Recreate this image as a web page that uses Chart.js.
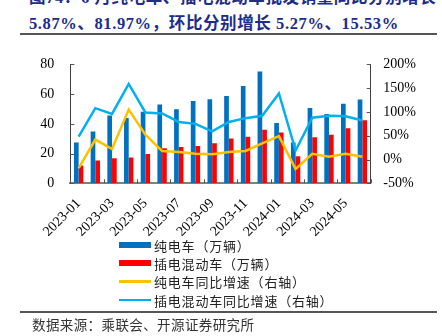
<!DOCTYPE html>
<html>
<head>
<meta charset="utf-8">
<script src="https://cdn.jsdelivr.net/npm/chart.js@4.4.1/dist/chart.umd.min.js"></script>
<style>
  body { margin: 0; width: 442px; height: 336px; background: #fff; position: relative; overflow: hidden; font-family: "Noto Sans CJK SC", sans-serif; }
  .title { position: absolute; left: 29px; color: #202c8c; font-weight: bold; font-size: 16.5px; letter-spacing: 0.6px; font-family: "Liberation Serif", "Noto Sans CJK SC", serif; white-space: nowrap; }
  .rule { position: absolute; left: 20px; width: 417px; height: 2px; background: #555; }
  #chart { position: absolute; left: 0; top: 40px; }
  #legend { position: absolute; left: 119px; top: 236px; }
  .item { height: 18.3px; display: flex; align-items: center; font-size: 13px; color: #222; letter-spacing: 0.8px; }
  .swatch { width: 32px; margin-right: 3px; }
  .source { position: absolute; left: 32px; top: 314px; font-size: 13.5px; color: #333; letter-spacing: 0.4px; }
</style>
</head>
<body>
<div class="title" style="top:-16px;">图74：6 月纯电车、插电混动车批发销量同比分别增长</div>
<div class="title" style="top:10px;">5.87%、81.97%，环比分别增长 5.27%、15.53%</div>
<div class="rule" style="top:33px;"></div>
<canvas id="chart" width="442" height="200"></canvas>
<div id="legend"></div>
<div class="rule" style="top:311px; height:1.5px;"></div>
<div class="source">数据来源：乘联会、开源证券研究所</div>

<script>
// months
const months = ['2023-01', '2023-02', '2023-03', '2023-04', '2023-05', '2023-06', '2023-07', '2023-08', '2023-09',
  '2023-10', '2023-11', '2023-12', '2024-01', '2024-02', '2024-03', '2024-04', '2024-05', '2024-06'];

// sales, 10k units (left axis)
const bevSales = [27.4, 34.8, 45.6, 43.9, 48.1, 53.1, 49.9, 55.4, 56.6, 58.7, 65.5, 75.3, 40.6, 27.4, 50.6, 46.7, 53.5, 56.4];
const phevSales = [12.0, 15.3, 16.8, 17.4, 19.7, 23.6, 24.5, 25.1, 27.0, 30.1, 31.3, 36.1, 34.2, 18.2, 30.9, 32.7, 37.1, 42.5];

// year on year growth, % (right axis)
const bevYoy = [-18, 42, 22, 105, 52, 18, 16, 12, 11, 16, 18, 34, 49, -20, 12, 6, 12, 5.87];
const phevYoy = [48, 108, 96, 159, 99, 97, 79, 75, 59, 79, 87, 92, 139, 19, 88, 92, 91, 81.97];

const leftTicks = [0, 20, 40, 60, 80];
const rightTicks = [-50, 0, 50, 100, 150, 200];

const serif = "'Liberation Serif', 'Times New Roman', serif";

// sets color for each series
function seriesColor(name) {
  if (name === 'bev') return '#0070C0';
  if (name === 'phev') return '#FF0000';
  if (name === 'bevYoy') return '#FFC000';
  if (name === 'phevYoy') return '#00B0F0';
}

// short inward tick marks, excel style
const innerTicks = {
  id: 'innerTicks',
  afterDraw(chart) {
    const ctx = chart.ctx;
    const x = chart.scales.x, yl = chart.scales.y, yr = chart.scales.y1;
    ctx.save();
    ctx.strokeStyle = '#555';
    ctx.lineWidth = 1;
    ctx.beginPath();
    const n = months.length;
    for (let i = 0; i <= n; i += 2) {
      const px = Math.round(x.left + (x.right - x.left) * i / n) + 0.5;
      ctx.moveTo(px, x.top);
      ctx.lineTo(px, x.top - 4);
    }
    leftTicks.forEach(v => {
      const py = Math.round(yl.getPixelForValue(v)) + 0.5;
      ctx.moveTo(yl.right, py);
      ctx.lineTo(yl.right + 4, py);
    });
    rightTicks.forEach(v => {
      const py = Math.round(yr.getPixelForValue(v)) + 0.5;
      ctx.moveTo(yr.left, py);
      ctx.lineTo(yr.left - 4, py);
    });
    ctx.stroke();
    ctx.restore();
  }
};

const datasets = [
  { type: 'bar', label: '纯电车（万辆）', data: bevSales, backgroundColor: seriesColor('bev'), yAxisID: 'y', order: 2 },
  { type: 'bar', label: '插电混动车（万辆）', data: phevSales, backgroundColor: seriesColor('phev'), yAxisID: 'y', order: 2 },
  { type: 'line', label: '纯电车同比增速（右轴）', data: bevYoy, borderColor: seriesColor('bevYoy'), borderWidth: 2.5, pointRadius: 0, tension: 0, yAxisID: 'y1', order: 1 },
  { type: 'line', label: '插电混动车同比增速（右轴）', data: phevYoy, borderColor: seriesColor('phevYoy'), borderWidth: 2.5, pointRadius: 0, tension: 0, yAxisID: 'y1', order: 0 }
];

new Chart(document.getElementById('chart').getContext('2d'), {
  data: { labels: months, datasets: datasets },
  options: {
    responsive: false,
    animation: false,
    devicePixelRatio: 1,
    layout: { padding: { top: 14.7, left: 0, right: 0, bottom: 0 } },
    datasets: { bar: { categoryPercentage: 0.56, barPercentage: 1.0 } },
    plugins: { legend: { display: false }, tooltip: { enabled: false } },
    scales: {
      x: {
        grid: { display: false, drawTicks: false },
        border: { display: true, color: '#808080', width: 2 },
        afterFit: s => { s.height = 56.7; },
        ticks: {
          autoSkip: false, minRotation: 45, maxRotation: 45, padding: 12, color: '#000',
          font: { family: serif, size: 14 },
          callback: function(v, i) { return i % 2 === 0 ? months[i] : ''; }
        }
      },
      y: {
        position: 'left', min: 0, max: 80,
        afterBuildTicks: s => { s.ticks = leftTicks.map(v => ({ value: v })); },
        afterFit: s => { s.width = 70.3; },
        grid: { display: false, drawTicks: false },
        border: { display: true, color: '#404040', width: 1 },
        ticks: { color: '#000', padding: 16, font: { family: serif, size: 14 } }
      },
      y1: {
        position: 'right', min: -50, max: 200,
        afterBuildTicks: s => { s.ticks = rightTicks.map(v => ({ value: v })); },
        afterFit: s => { s.width = 71.3; },
        grid: { display: false, drawTicks: false },
        border: { display: true, color: '#404040', width: 1 },
        ticks: { color: '#000', padding: 12.6, font: { family: serif, size: 14 }, callback: v => v + '%' }
      }
    }
  },
  plugins: [innerTicks]
});

// html legend, stacked in one column
const legend = document.getElementById('legend');
datasets.forEach(d => {
  const row = document.createElement('div');
  row.className = 'item';
  const sw = document.createElement('div');
  sw.className = 'swatch';
  if (d.type === 'bar') {
    sw.style.height = '6px';
    sw.style.background = d.backgroundColor;
  } else {
    sw.style.height = '2.5px';
    sw.style.background = d.borderColor;
  }
  const label = document.createElement('span');
  label.textContent = d.label;
  row.appendChild(sw);
  row.appendChild(label);
  legend.appendChild(row);
});
</script>
</body>
</html>
